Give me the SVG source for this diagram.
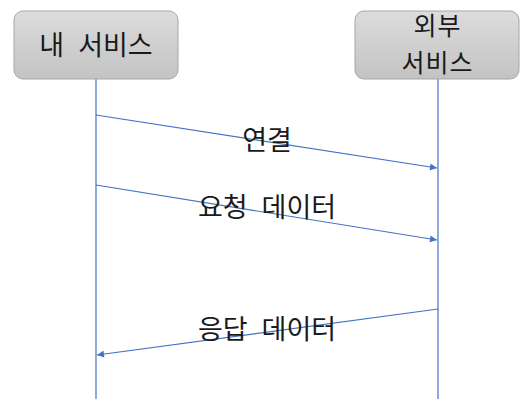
<svg xmlns="http://www.w3.org/2000/svg" width="524" height="399" viewBox="0 0 524 399">
<style>
.box{fill:url(#g);stroke:#a6a6a6;stroke-width:1}
.t{font-family:"Noto Sans CJK KR","Noto Sans",sans-serif;font-size:27px;fill:#1a1a1a;text-anchor:middle;word-spacing:8px}
.t2{font-size:25px;letter-spacing:1px}
.life{stroke:#4472c4;stroke-width:1.2;fill:none}
.msg{stroke:#4472c4;stroke-width:1.2;fill:none;marker-end:url(#ah)}
</style>
<defs>
<linearGradient id="g" x1="0" y1="0" x2="0" y2="1">
<stop offset="0" stop-color="#dcdcdc"/>
<stop offset="1" stop-color="#c3c3c3"/>
</linearGradient>
<marker id="ah" viewBox="0 0 10 10" refX="10" refY="5" markerWidth="9" markerHeight="7" markerUnits="userSpaceOnUse" orient="auto">
<path d="M0,0 L10,5 L0,10 z" fill="#4472c4"/>
</marker>
</defs>
<g id="connectors">
<line class="life" x1="96" y1="79" x2="96" y2="399"/>
<line class="life" x1="438" y1="79" x2="438" y2="399"/>
<line class="msg" x1="96" y1="115" x2="437" y2="168"/>
<line class="msg" x1="96" y1="185" x2="437" y2="240"/>
<line class="msg" x1="438" y1="309" x2="97" y2="355"/>
<text class="t" x="267" y="150">연결</text>
<text class="t" x="267" y="217">요청 데이터</text>
<text class="t" x="267" y="339">응답 데이터</text>
</g>
<g id="my-service">
<rect class="box" x="14" y="11" width="164" height="68" rx="9"/>
<text class="t" x="96" y="55">내 서비스</text>
</g>
<g id="external-service">
<rect class="box" x="355" y="11" width="164" height="68" rx="9"/>
<text class="t t2" x="437.5" y="35">외부</text>
<text class="t t2" x="437.5" y="71.5">서비스</text>
</g>
</svg>
